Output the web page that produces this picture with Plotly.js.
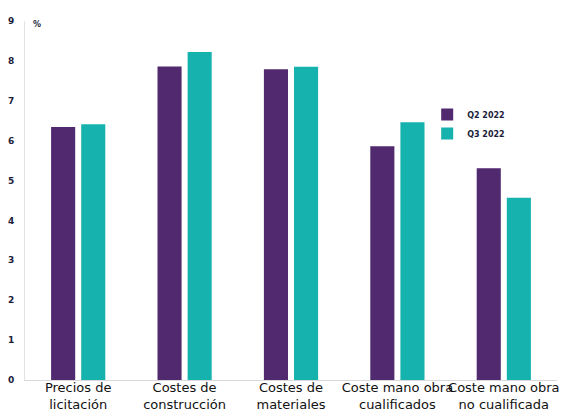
<!DOCTYPE html>
<html>
<head>
<meta charset="utf-8">
<script src="https://cdn.plot.ly/plotly-3.0.1.min.js"></script>
<style>
html,body{margin:0;padding:0;background:#fff;}
#chart{width:582px;height:412px;}
</style>
</head>
<body>
<div id="chart"></div>
<script>
var categories = ["Precios de<br>licitación", "Costes de<br>construcción", "Costes de<br>materiales", "Coste mano obra<br>cualificados", "Coste mano obra<br>no cualificada"];
var seriesNames = ["Q2 2022", "Q3 2022"];
var q2 = [6.34, 7.86, 7.79, 5.86, 5.31];
var q3 = [6.41, 8.22, 7.85, 6.46, 4.57];
var yTicks = [0, 1, 2, 3, 4, 5, 6, 7, 8, 9];

var traces = [
  {type: "bar", name: seriesNames[0], x: categories, y: q2, marker: {color: "#50296e"}},
  {type: "bar", name: seriesNames[1], x: categories, y: q3, marker: {color: "#16b2ad"}}
];

var layout = {
  width: 582, height: 412,
  margin: {l: 25, r: 25, t: 21, b: 32},
  paper_bgcolor: "#fff", plot_bgcolor: "#fff",
  barmode: "group", bargap: 0.434, bargroupgap: 0.2,
  showlegend: true,
  legend: {x: 0.756, y: 0.78, xanchor: "left", yanchor: "top",
    font: {family: "DejaVu Sans", size: 8, color: "#1c1c3a", weight: "bold"},
    itemwidth: 30, bgcolor: "rgba(0,0,0,0)"},
  xaxis: {showline: true, linecolor: "#d9d9d9", linewidth: 1, showgrid: false,
    ticks: "", ticklabelstandoff: -5, tickfont: {family: "DejaVu Sans", size: 13, color: "#111"},
    tickangle: 0, fixedrange: true},
  yaxis: {range: [0, 9], tickvals: yTicks, showline: true, linecolor: "#e3e3e3",
    showgrid: false, zeroline: false, ticks: "", ticklabelstandoff: 8,
    tickfont: {family: "DejaVu Sans", size: 9, color: "#1c1c3a", weight: "bold"}},
  annotations: [{xref: "paper", yref: "paper", x: 0.012, y: 0.99, xanchor: "left", yanchor: "middle",
    text: "%", showarrow: false, font: {family: "DejaVu Sans", size: 8, color: "#1c1c3a", weight: "bold"}}]
};

Plotly.newPlot("chart", traces, layout, {displayModeBar: false, staticPlot: true});
</script>
</body>
</html>
